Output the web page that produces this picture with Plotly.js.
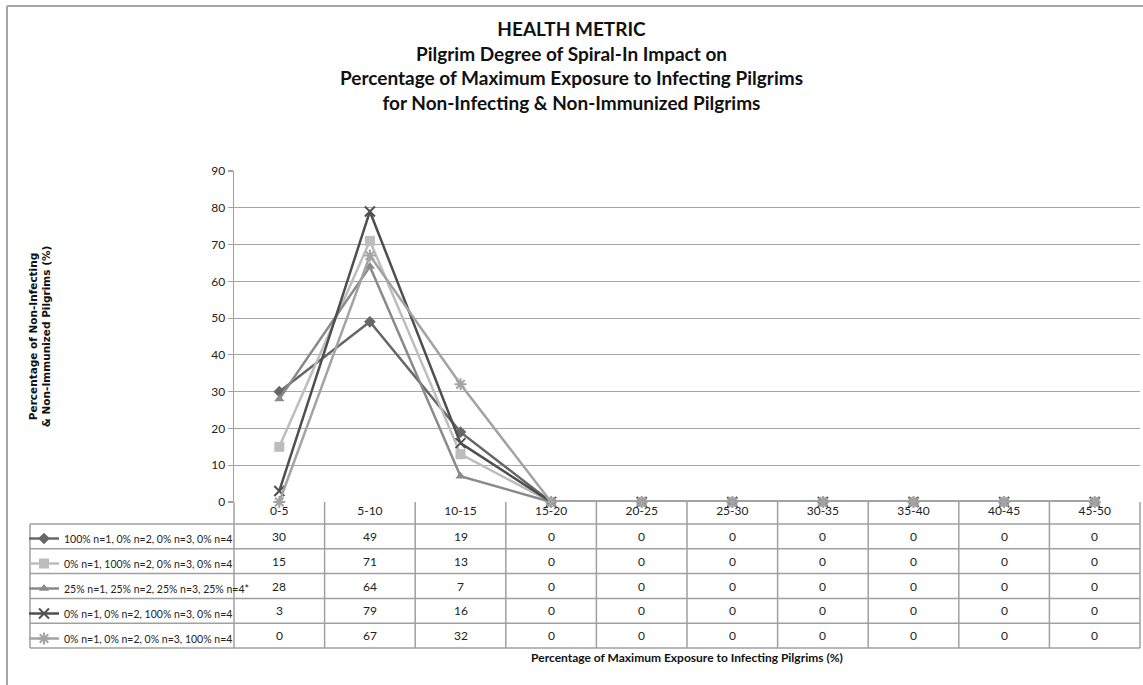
<!DOCTYPE html>
<html>
<head>
<meta charset="utf-8">
<script src="https://cdn.plot.ly/plotly-3.0.1.min.js"></script>
<style>html,body{margin:0;padding:0;background:#fff;}#chart{width:1143px;height:685px;}</style>
</head>
<body>
<div id="chart"></div>
<script>
// ---- data ----
const categories = ["0-5","5-10","10-15","15-20","20-25","25-30","30-35","35-40","40-45","45-50"];
const seriesNames = [
  "100% n=1, 0% n=2, 0% n=3, 0% n=4",
  "0% n=1, 100% n=2, 0% n=3, 0% n=4",
  "25% n=1, 25% n=2, 25% n=3, 25% n=4*",
  "0% n=1, 0% n=2, 100% n=3, 0% n=4",
  "0% n=1, 0% n=2, 0% n=3, 100% n=4"
];
const s1 = [30,49,19,0,0,0,0,0,0,0];
const s2 = [15,71,13,0,0,0,0,0,0,0];
const s3 = [28,64,7,0,0,0,0,0,0,0];
const s4 = [3,79,16,0,0,0,0,0,0,0];
const s5 = [0,67,32,0,0,0,0,0,0,0];
const seriesValues = [s1,s2,s3,s4,s5];
const yTicks = [0,10,20,30,40,50,60,70,80,90];

// ---- styles ----
const FONT = "Lato, 'Open Sans', sans-serif";
const colors = ["#676767","#bdbdbd","#8a8a8a","#4f4f4f","#a3a3a3"];
const symbols = ["diamond","square","triangle-up","x-thin-open","asterisk-open"];
const msizes = [9,10,9,10,10];

const W = 1143, H = 685;
const L = 234, R = 1140, T = 171, B = 502;
const pw = R - L, ph = B - T;
const px2x = p => (p - L) / pw;
const px2y = p => (B - p) / ph;

const traces = seriesValues.map((v,i) => ({
  type: "scatter", mode: "lines+markers",
  x: categories, y: v, name: seriesNames[i],
  legendgroup: "g"+i,
  line: {color: colors[i], width: 2.5},
  marker: {symbol: symbols[i], size: msizes[i], color: colors[i],
           line: {color: colors[i], width: (i>=3?2:0)}},
  cliponaxis: false
}));

// table geometry (pixels)
const rowEdges = [524, 548.8, 573.6, 598.4, 623.2, 648];
const tableLeft = 30;
const gridCol = "#a0a0a0";

const shapes = [];
// outer chart frame
shapes.push({type:"line", xref:"paper", yref:"paper", x0:px2x(7), x1:px2x(1150), y0:px2y(6), y1:px2y(6), line:{color:"#a6a6a6", width:2}});
shapes.push({type:"line", xref:"paper", yref:"paper", x0:px2x(7), x1:px2x(7), y0:px2y(6), y1:px2y(700), line:{color:"#a6a6a6", width:2}});
// horizontal table rules
rowEdges.forEach(p => shapes.push({type:"line", xref:"paper", yref:"paper", x0:px2x(tableLeft), x1:1, y0:px2y(p), y1:px2y(p), line:{color:gridCol, width:1.5}}));
// vertical rules
shapes.push({type:"line", xref:"paper", yref:"paper", x0:px2x(tableLeft), x1:px2x(tableLeft), y0:px2y(rowEdges[0]), y1:px2y(rowEdges[5]), line:{color:gridCol, width:1.5}});
shapes.push({type:"line", xref:"paper", yref:"paper", x0:0, x1:0, y0:0, y1:px2y(rowEdges[5]), line:{color:gridCol, width:1.5}});
shapes.push({type:"line", xref:"paper", yref:"paper", x0:1, x1:1, y0:0, y1:px2y(rowEdges[5]), line:{color:gridCol, width:1.5}});
for (let k = 0; k < categories.length - 1; k++) {
  shapes.push({type:"line", xref:"x", yref:"paper", x0:k+0.5, x1:k+0.5, y0:0, y1:px2y(rowEdges[5]), line:{color:gridCol, width:1.5}});
}

// cell values
const annotations = [];
seriesValues.forEach((vals, r) => {
  const yc = px2y((rowEdges[r] + rowEdges[r+1]) / 2);
  vals.forEach((v, c) => {
    annotations.push({xref:"x", yref:"paper", x:categories[c], y:yc, text:String(v), showarrow:false,
      xanchor:"center", yanchor:"middle", font:{family:FONT, size:12, color:"#222"}});
  });
});

const layout = {
  width: W, height: H,
  paper_bgcolor: "#fff", plot_bgcolor: "#fff",
  margin: {l: L, r: W - R, t: T, b: H - B, pad: 0},
  font: {family: FONT, color: "#222"},
  title: {
    text: "<b>HEALTH METRIC</b><br><b>Pilgrim Degree of Spiral-In Impact on</b><br><b>Percentage of Maximum Exposure to Infecting Pilgrims</b><br><b>for Non-Infecting &amp; Non-Immunized Pilgrims</b>",
    font: {family: FONT, size: 19, color: "#111"},
    x: 0.5, xref: "container", xanchor: "center",
    y: 1 - 36/H, yref: "container", yanchor: "top"
  },
  showlegend: true,
  legend: {
    x: px2x(24), xanchor: "left", xref: "paper",
    y: px2y(rowEdges[0]), yanchor: "top", yref: "paper",
    font: {family: FONT, size: 10.5, color: "#222"},
    tracegroupgap: 6, itemwidth: 30, bgcolor: "rgba(0,0,0,0)", borderwidth: 0,
    traceorder: "grouped"
  },
  xaxis: {
    type: "category", range: [-0.5, categories.length - 0.5], fixedrange: true,
    showgrid: false, zeroline: false, showline: false, ticks: "",
    tickfont: {family: FONT, size: 12, color: "#222"},
    title: {text: "<b>Percentage of Maximum Exposure to Infecting Pilgrims (%)</b>",
            font: {family: FONT, size: 12, color: "#111"}, standoff: 136}
  },
  yaxis: {
    range: [0, 90], tickvals: yTicks, ticktext: yTicks.map(String),
    showgrid: true, gridcolor: "#a6a6a6", gridwidth: 1.2,
    zeroline: false, showline: true, linecolor: gridCol, linewidth: 1.5,
    ticks: "outside", ticklen: 5, tickcolor: gridCol, tickwidth: 1.2,
    tickfont: {family: FONT, size: 12, color: "#222"},
    title: {text: "<b>Percentage of Non-Infecting<br>&amp; Non-Immunized Pilgrims (%)</b>",
            font: {family: "'DejaVu Sans', Verdana, sans-serif", size: 10.5, color: "#111"}, standoff: 158}
  },
  shapes: shapes,
  annotations: annotations
};

Plotly.newPlot("chart", traces, layout, {displayModeBar: false, staticPlot: true});
</script>
</body>
</html>
